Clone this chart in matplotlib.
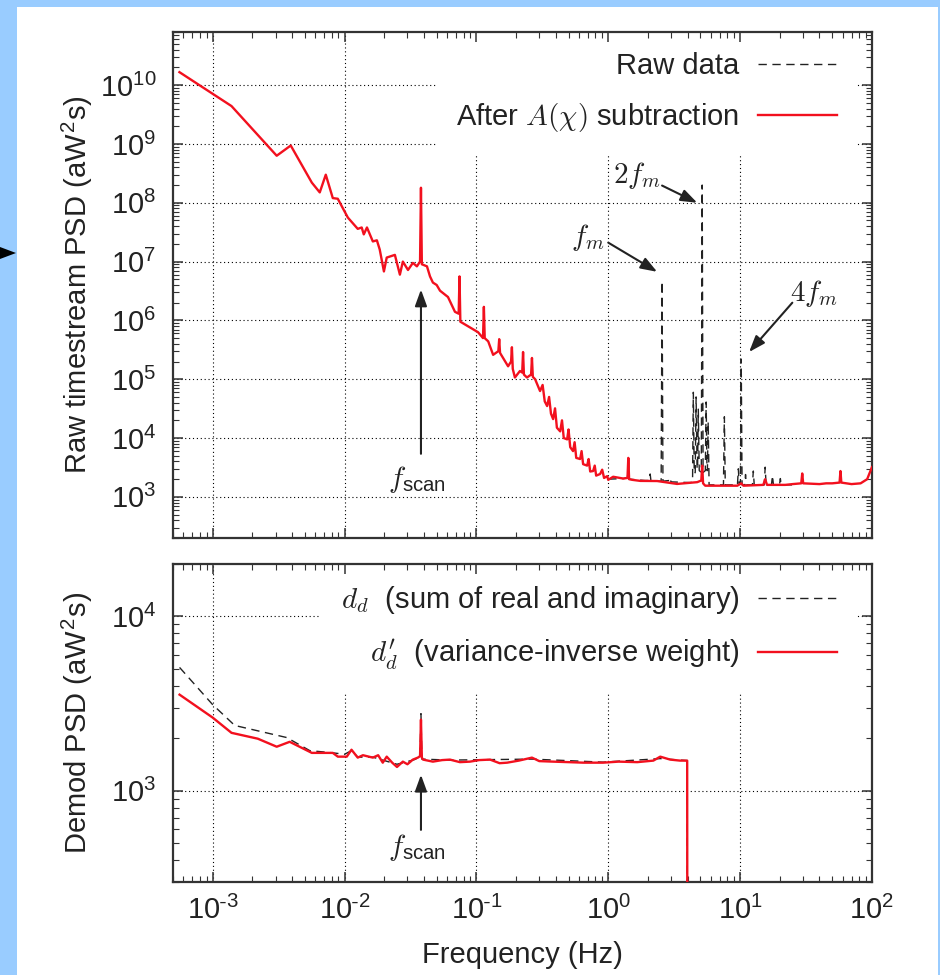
import matplotlib
matplotlib.use('Agg')
import matplotlib.pyplot as plt
from matplotlib.ticker import LogLocator, NullFormatter, FuncFormatter
from matplotlib.patches import Rectangle, Polygon
import numpy as np

plt.rcParams['font.family'] = ['Liberation Sans', 'DejaVu Sans']
plt.rcParams['mathtext.fontset'] = 'cm'
plt.rcParams['font.size'] = 21

RED = '#f2101e'
INK = '#222222'

# --- top panel: PSD after A(chi) subtraction (red) ---
sub_freq = [5.6e-4, 1.39e-3, 3.06e-3, 3.91e-3, 5.65e-3, 6.49e-3, 7.21e-3, 8.15e-3, 8.89e-3, 1.06e-2,
            1.26e-2, 1.35e-2, 1.40e-2, 1.48e-2, 1.64e-2, 1.76e-2, 1.85e-2, 1.99e-2, 2.09e-2, 2.41e-2,
            2.63e-2, 2.77e-2, 3.03e-2, 3.30e-2, 3.54e-2, 3.74e-2, 3.80e-2, 3.86e-2, 4.22e-2, 4.45e-2,
            4.68e-2, 5.0e-2, 5.30e-2, 6.09e-2, 6.88e-2, 7.34e-2, 7.45e-2, 7.56e-2, 8.94e-2, 0.103,
            0.1123, 0.114, 0.1157, 0.123, 0.134, 0.1468, 0.149, 0.1512, 0.174, 0.1833,
            0.186, 0.1888, 0.196, 0.214, 0.2226, 0.226, 0.2294, 0.242, 0.26, 0.264,
            0.268, 0.279, 0.304, 0.318, 0.330, 0.344, 0.356, 0.368, 0.382, 0.395,
            0.408, 0.432, 0.446, 0.460, 0.488, 0.500, 0.515, 0.541, 0.556, 0.572,
            0.612, 0.628, 0.645, 0.692, 0.71, 0.73, 0.768, 0.79, 0.81, 0.868,
            0.90, 0.93, 0.982, 1.0, 1.09, 1.30, 1.40, 1.42, 1.44, 1.52,
            1.75, 2.35, 3.33, 4.73, 5.08, 5.16, 5.24, 5.44, 9.53, 10.2,
            10.6, 15.0, 15.5, 16.0, 22.0, 25.0, 29.1, 29.6, 30.1, 40.0,
            45.0, 50.0, 56.8, 57.7, 58.6, 70.0, 82.0, 92.0, 100.0]
sub_psd = [1.66e10, 4.4e9, 6.3e8, 9.4e8, 2.2e8, 1.5e8, 3.0e8, 1.2e8, 1.17e8, 5.6e7,
           3.6e7, 3.8e7, 2.9e7, 3.8e7, 2.2e7, 2.3e7, 1.6e7, 6.8e6, 1.17e7, 1.3e7,
           6.0e6, 1.0e7, 7.2e6, 9.5e6, 8.3e6, 1.0e7, 1.8e8, 9.0e6, 8.3e6, 5.6e6,
           4.4e6, 4.0e6, 3.2e6, 2.5e6, 1.4e6, 1.3e6, 5.6e6, 9.5e5, 7.6e5, 6.3e5,
           5.0e5, 1.7e6, 5.0e5, 4.4e5, 2.6e5, 3.0e5, 4.8e5, 2.8e5, 1.66e5, 2.0e5,
           3.5e5, 1.5e5, 1.07e5, 1.38e5, 1.3e5, 2.9e5, 1.2e5, 1.07e5, 1.2e5, 2.3e5,
           1.1e5, 1.0e5, 6.3e4, 8.0e4, 4.2e4, 3.5e4, 5.0e4, 2.6e4, 2.1e4, 3.2e4,
           1.5e4, 1.3e4, 2.0e4, 1.0e4, 9.5e3, 1.4e4, 7.0e3, 6.0e3, 8.5e3, 4.6e3,
           4.4e3, 6.0e3, 3.6e3, 3.4e3, 4.4e3, 2.7e3, 2.75e3, 3.4e3, 2.3e3, 2.45e3,
           2.9e3, 2.1e3, 2.25e3, 1.95e3, 2.2e3, 2.05e3, 2.1e3, 4.6e3, 2.0e3, 1.95e3,
           1.87e3, 1.86e3, 1.66e3, 1.78e3, 1.9e3, 3.4e3, 1.7e3, 1.55e3, 1.55e3, 1.7e3,
           1.55e3, 1.6e3, 2.0e3, 1.6e3, 1.6e3, 1.65e3, 1.7e3, 2.5e3, 1.7e3, 1.65e3,
           1.7e3, 1.7e3, 1.75e3, 2.75e3, 1.75e3, 1.65e3, 1.7e3, 2.0e3, 3.2e3]

# raw data, only where it departs from the red curve (modulation lines)
raw_freq = [1.0, 1.3, 1.40, 1.42, 1.44, 1.9, 2.05, 2.08, 2.11, 2.52,
            2.56, 2.60, 2.91, 2.95, 2.99, 4.2, 4.36, 4.42, 4.49, 4.57,
            4.64, 4.72, 4.76, 4.82, 4.90, 5.08, 5.16, 5.24, 5.45, 5.53,
            5.61, 5.65, 5.73, 5.82, 7.48, 7.6, 7.72, 9.55, 9.7, 9.85,
            10.05, 10.2, 10.35, 10.85, 11.0, 11.15, 12.4, 12.6, 12.8, 15.25,
            15.5, 15.75, 17.3, 17.6, 17.9, 19.9, 20.2, 20.5, 25.0]
raw_psd = [2.0e3, 2.05e3, 2.1e3, 4.4e3, 2.0e3, 1.9e3, 1.9e3, 2.45e3, 1.85e3, 1.85e3,
           4.6e6, 1.85e3, 1.9e3, 2.1e3, 1.8e3, 1.75e3, 1.8e3, 6.0e4, 2.5e3, 2.6e3,
           5.0e4, 3.0e3, 3.0e3, 3.1e4, 2.8e3, 2.6e3, 2.0e8, 2.6e3, 2.8e3, 4.1e4,
           2.8e3, 2.8e3, 1.9e4, 1.6e3, 1.6e3, 2.3e4, 1.6e3, 1.6e3, 3.0e3, 1.65e3,
           1.65e3, 2.2e5, 1.6e3, 1.6e3, 2.4e3, 1.6e3, 1.6e3, 2.75e3, 1.6e3, 1.6e3,
           3.2e3, 1.6e3, 1.6e3, 2.3e3, 1.6e3, 1.6e3, 2.05e3, 1.6e3, 1.6e3]

# --- bottom panel: demodulated PSD ---
dd_freq = [5.61e-4, 1.0e-3, 1.47e-3, 3.65e-3, 5.45e-3, 8.2e-3, 1.0e-2, 1.13e-2, 1.26e-2, 1.64e-2,
           1.95e-2, 2.5e-2, 3.3e-2, 3.74e-2, 3.80e-2, 3.86e-2, 6.3e-2, 0.264, 0.914, 2.48,
           3.97, 3.98]
dd_psd = [5.1e3, 3.12e3, 2.37e3, 2.02e3, 1.70e3, 1.65e3, 1.62e3, 1.70e3, 1.56e3, 1.56e3,
          1.50e3, 1.42e3, 1.50e3, 1.55e3, 2.77e3, 1.52e3, 1.50e3, 1.52e3, 1.46e3, 1.53e3,
          1.49e3, 1.0e2]

ddw_freq = [5.61e-4, 1.0e-3, 1.39e-3, 2.2e-3, 3.06e-3, 3.84e-3, 5.65e-3, 8.15e-3, 8.9e-3, 1.04e-2,
            1.13e-2, 1.26e-2, 1.38e-2, 1.64e-2, 1.8e-2, 1.95e-2, 2.09e-2, 2.3e-2, 2.5e-2, 2.77e-2,
            3.0e-2, 3.3e-2, 3.6e-2, 3.74e-2, 3.80e-2, 3.86e-2, 3.94e-2, 4.68e-2, 5.5e-2, 6.3e-2,
            7.5e-2, 8.94e-2, 0.105, 0.127, 0.15, 0.171, 0.21, 0.264, 0.30, 0.382,
            0.5, 0.65, 0.914, 1.2, 1.66, 2.2, 2.48, 2.95, 3.5, 3.97,
            3.98]
ddw_psd = [3.56e3, 2.63e3, 2.15e3, 1.99e3, 1.79e3, 1.91e3, 1.65e3, 1.65e3, 1.57e3, 1.57e3,
           1.72e3, 1.55e3, 1.60e3, 1.55e3, 1.60e3, 1.45e3, 1.57e3, 1.45e3, 1.37e3, 1.47e3,
           1.42e3, 1.51e3, 1.55e3, 1.58e3, 2.56e3, 1.55e3, 1.51e3, 1.47e3, 1.50e3, 1.51e3,
           1.46e3, 1.47e3, 1.50e3, 1.51e3, 1.44e3, 1.45e3, 1.49e3, 1.55e3, 1.48e3, 1.47e3,
           1.46e3, 1.45e3, 1.45e3, 1.47e3, 1.46e3, 1.49e3, 1.57e3, 1.51e3, 1.49e3, 1.49e3,
           1.0e2]

fig = plt.figure(figsize=(9.4, 9.75), dpi=100, facecolor='#99ccff')
fig.add_artist(Rectangle((17 / 940, 0), 921 / 940, 968 / 975, transform=fig.transFigure,
                         facecolor='white', edgecolor='none', zorder=-5))
fig.add_artist(Polygon([(0, 1 - 247 / 975), (16 / 940, 1 - 253 / 975), (0, 1 - 259 / 975)],
                       transform=fig.transFigure, facecolor='black', edgecolor='none'))

ax1 = fig.add_axes([0.1840, 0.4482, 0.7436, 0.5190])
ax2 = fig.add_axes([0.1840, 0.0954, 0.7436, 0.3262])


def decade_label(v, pos):
    # gnuplot-style 10^n with a short hyphen for negative exponents
    e = int(round(np.log10(v)))
    s = str(e).replace('-', r'\text{-}')
    return r'$\mathdefault{10^{%s}}$' % s


def style(ax, ylo, yhi):
    ax.set_xscale('log')
    ax.set_yscale('log')
    ax.set_xlim(5e-4, 100)
    ax.set_ylim(ylo, yhi)
    for a in (ax.xaxis, ax.yaxis):
        a.set_major_locator(LogLocator(base=10, numticks=20))
        a.set_major_formatter(FuncFormatter(decade_label))
        a.set_minor_locator(LogLocator(base=10, subs=range(2, 10), numticks=20))
        a.set_minor_formatter(NullFormatter())
    ax.tick_params(which='both', direction='in', top=True, right=True, color='#333333',
                   labelcolor=INK, labelsize=21)
    ax.tick_params(which='major', length=7, width=1.1)
    ax.tick_params(which='minor', length=4, width=0.8)
    ax.tick_params(axis='x', pad=10)
    ax.tick_params(axis='y', pad=12)
    for s in ax.spines.values():
        s.set_linewidth(1.6)
        s.set_color('#333333')
    # dotted grid behind the legend box
    for v in [1e-3, 1e-2, 1e-1, 1e0, 1e1]:
        ax.axvline(v, color='black', lw=0.8, ls=(0, (1, 2.5)), zorder=0.5)
    for t in ax.get_yticks():
        if ylo < t < yhi:
            ax.axhline(t, color='black', lw=0.8, ls=(0, (1, 2.5)), zorder=0.5)


style(ax1, 200, 8e10)
style(ax2, 300, 2e4)
ax1.tick_params(labelbottom=False)

ax1.plot(raw_freq, raw_psd, color=INK, lw=1.0, ls=(0, (6, 4)), zorder=2, label='Raw data')
ax1.plot(sub_freq, sub_psd, color=RED, lw=1.7, zorder=3, label=r'After $A(\chi)$ subtraction')

ax2.plot(dd_freq, dd_psd, color=INK, lw=1.0, ls=(0, (6, 4)), zorder=2,
         label=r'$d_d$  (sum of real and imaginary)')
ax2.plot(ddw_freq, ddw_psd, color=RED, lw=1.7, zorder=3,
         label=r"$d^{\prime}_d$  (variance-inverse weight)")

for ax in (ax1, ax2):
    leg = ax.legend(loc='upper right', bbox_to_anchor=(0.979, 1.0), borderaxespad=0,
                    markerfirst=False, fancybox=False, edgecolor='none', facecolor='white',
                    framealpha=1, handlelength=2.7, handletextpad=0.65, labelspacing=0.72,
                    borderpad=0.7, fontsize=21, labelcolor=INK)
    leg.set_zorder(1)

ax1.set_ylabel(r'Raw timestream PSD (aW$^\mathregular{2}$s)', color=INK)
ax1.yaxis.set_label_coords(-0.112, 0.5)
ax2.set_ylabel(r'Demod PSD (aW$^\mathregular{2}$s)', color=INK)
ax2.yaxis.set_label_coords(-0.112, 0.5)
ax2.set_xlabel('Frequency (Hz)', color=INK)
ax2.xaxis.set_label_coords(0.5, -0.185)

arrow = dict(arrowstyle='-|>,head_length=0.55,head_width=0.2', color=INK, lw=1.5,
             mutation_scale=18, shrinkA=0, shrinkB=0)

ax1.annotate('', xy=(0.038, 3.35e6), xytext=(0.038, 5.4e3), arrowprops=arrow)
ax1.text(0.0354, 2.0e3, r'$f_{\mathregular{scan}}$', ha='center', va='center', color=INK)
ax1.annotate('', xy=(2.35, 6.7e6), xytext=(1.0, 2.1e7), arrowprops=arrow)
ax1.text(0.70, 2.6e7, r'$f_m$', ha='center', va='center', color=INK)
ax1.annotate('', xy=(4.73, 1.0e8), xytext=(2.56, 1.96e8), arrowprops=arrow)
ax1.text(1.66, 2.9e8, r'$2f_m$', ha='center', va='center', color=INK)
ax1.annotate('', xy=(11.7, 2.9e5), xytext=(24.9, 2.0e6), arrowprops=arrow)
ax1.text(36.6, 2.9e6, r'$4f_m$', ha='center', va='center', color=INK)

ax2.annotate('', xy=(0.038, 1236), xytext=(0.038, 597), arrowprops=arrow)
ax2.text(0.0354, 470, r'$f_{\mathregular{scan}}$', ha='center', va='center', color=INK)

fig.savefig('out.png', dpi=100, facecolor=fig.get_facecolor())
